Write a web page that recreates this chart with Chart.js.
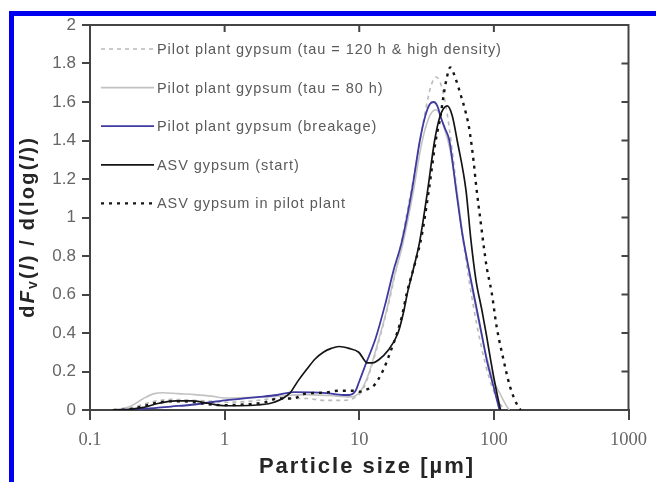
<!DOCTYPE html>
<html>
<head>
<meta charset="utf-8">
<script src="https://cdn.jsdelivr.net/npm/chart.js@4.4.1/dist/chart.umd.min.js"></script>
<style>
  html, body { margin: 0; padding: 0; background: #fff; }
  #wrap { position: relative; width: 656px; height: 482px; overflow: hidden; background: #fff; }
  #frame { position: absolute; left: 9px; top: 11px; width: 700px; height: 500px;
           border-top: 5px solid #0000f0; border-left: 5px solid #0000f0; }
  #chart { position: absolute; left: 0; top: 0; }
</style>
</head>
<body>
<div id="wrap"><div id="frame"></div><canvas id="chart" width="656" height="482"></canvas></div>
<script>
// tick values
var xTicks = [0.1, 1, 10, 100, 1000]
var yTicks = [0, 0.2, 0.4, 0.6, 0.8, 1, 1.2, 1.4, 1.6, 1.8, 2]

var seriesNames = [
  'Pilot plant gypsum (tau = 120 h & high density)',
  'Pilot plant gypsum (tau = 80 h)',
  'Pilot plant gypsum (breakage)',
  'ASV gypsum (start)',
  'ASV gypsum in pilot plant'
]

// particle size [um] / dFv/dlog(l)
var tau120X = [0.15, 0.2, 0.25, 0.3, 0.4, 0.6, 0.8, 1, 1.5, 2.5, 4, 5.5, 7.5, 9, 10.5, 12, 14, 16.5, 19, 22, 26, 30, 34, 37, 40, 44, 49, 55, 62, 70, 80, 92, 105, 120]
var tau120Y = [0, 0.01, 0.03, 0.045, 0.055, 0.05, 0.045, 0.04, 0.045, 0.06, 0.06, 0.05, 0.05, 0.06, 0.1, 0.2, 0.36, 0.55, 0.75, 0.98, 1.25, 1.5, 1.68, 1.73, 1.7, 1.58, 1.35, 1.05, 0.78, 0.55, 0.34, 0.17, 0.06, 0]

var tau80X = [0.15, 0.2, 0.25, 0.3, 0.35, 0.45, 0.6, 0.8, 1, 1.5, 2.5, 4, 6, 8.5, 10, 11.5, 13.5, 16, 18, 21, 25, 29, 33, 37, 40, 43, 47, 53, 59, 66, 75, 88, 100, 112, 122, 130]
var tau80Y = [0, 0.02, 0.06, 0.085, 0.09, 0.085, 0.08, 0.072, 0.062, 0.065, 0.072, 0.08, 0.075, 0.068, 0.09, 0.17, 0.33, 0.52, 0.68, 0.86, 1.12, 1.38, 1.52, 1.56, 1.53, 1.46, 1.36, 1.14, 0.9, 0.7, 0.5, 0.28, 0.15, 0.08, 0.03, 0]

var breakX = [0.15, 0.2, 0.3, 0.4, 0.55, 0.7, 1, 1.3, 1.75, 2.45, 3.26, 4.5, 5.7, 7.6, 8.4, 9.4, 9.9, 11.2, 13.2, 15.6, 17.9, 20.8, 24.6, 28.2, 31, 33.5, 35.7, 38, 40.8, 43.5, 46.7, 52.5, 58.1, 63.2, 67.6, 74.8, 81.4, 88.5, 99.6, 110]
var breakY = [0, 0.003, 0.01, 0.018, 0.026, 0.035, 0.05, 0.058, 0.067, 0.078, 0.093, 0.092, 0.088, 0.078, 0.078, 0.1, 0.14, 0.24, 0.37, 0.55, 0.72, 0.88, 1.14, 1.4, 1.53, 1.59, 1.6, 1.58, 1.51, 1.46, 1.4, 1.14, 0.92, 0.78, 0.675, 0.52, 0.39, 0.26, 0.12, 0]

var startX = [0.147, 0.2, 0.244, 0.325, 0.432, 0.567, 0.754, 1, 1.3, 1.75, 2.33, 3.05, 3.5, 4.06, 4.7, 5.41, 6.2, 7.08, 8.38, 9.91, 11.5, 12.6, 13.9, 16.4, 19.4, 21.2, 23, 25, 28.2, 32.2, 36.3, 40, 45.1, 49, 53.4, 62.1, 67.6, 73.6, 81.4, 88, 94.6, 103, 112]
var startY = [0, 0.004, 0.012, 0.035, 0.047, 0.047, 0.035, 0.022, 0.022, 0.026, 0.04, 0.088, 0.15, 0.21, 0.265, 0.3, 0.32, 0.33, 0.32, 0.3, 0.245, 0.245, 0.26, 0.31, 0.4, 0.5, 0.62, 0.72, 0.88, 1.14, 1.4, 1.53, 1.58, 1.53, 1.4, 1.14, 0.88, 0.675, 0.52, 0.39, 0.26, 0.12, 0]

var pilotX = [0.15, 0.2, 0.25, 0.3, 0.4, 0.5, 0.6, 0.75, 1, 1.5, 2, 2.5, 3.2, 4, 5.5, 7, 9, 10, 11.7, 12.6, 14.9, 17, 19.1, 20.8, 22.6, 25.9, 29, 33, 37, 40, 42, 44.5, 47.5, 52, 57.1, 62.1, 65.3, 67.6, 71, 74, 80, 84.1, 88.5, 96.3, 105, 118, 132, 152, 158]
var pilotY = [0, 0.005, 0.02, 0.035, 0.045, 0.045, 0.04, 0.03, 0.025, 0.03, 0.04, 0.06, 0.06, 0.085, 0.09, 0.1, 0.1, 0.095, 0.11, 0.12, 0.2, 0.3, 0.4, 0.49, 0.61, 0.76, 0.9, 1.15, 1.4, 1.52, 1.62, 1.72, 1.78, 1.72, 1.63, 1.54, 1.47, 1.4, 1.28, 1.16, 0.97, 0.85, 0.74, 0.61, 0.43, 0.26, 0.12, 0.015, 0]

function pts(xs, ys) {
  return xs.map(function (v, i) { return { x: v, y: ys[i] } })
}

var datasets = [
  { label: seriesNames[0], data: pts(tau120X, tau120Y), borderColor: '#b9b9b9', borderWidth: 1.6, borderDash: [4, 4], order: 5 },
  { label: seriesNames[1], data: pts(tau80X, tau80Y), borderColor: '#c2c2c2', borderWidth: 1.6, order: 4 },
  { label: seriesNames[2], data: pts(breakX, breakY), borderColor: '#3e3aa0', borderWidth: 1.8, order: 3 },
  { label: seriesNames[3], data: pts(startX, startY), borderColor: '#151515', borderWidth: 1.7, order: 2 },
  { label: seriesNames[4], data: pts(pilotX, pilotY), borderColor: '#151515', borderWidth: 2.4, borderDash: [3, 5], order: 1 }
]

// draws text char by char with extra spacing; segments may be italic or subscript
function richText(ctx, segs, size, spacing, cx, cy, weight, align) {
  var parts = []
  segs.forEach(function (s) {
    var fs = s.sub ? Math.round(size * 0.7) : size
    var font = (s.i ? 'italic ' : '') + (weight || 'bold') + ' ' + fs + 'px "Liberation Sans", Arial, sans-serif'
    for (var k = 0; k < s.t.length; k++) parts.push({ c: s.t[k], font: font, dy: s.sub ? size * 0.28 : 0 })
  })
  var total = 0
  parts.forEach(function (p) { ctx.font = p.font; p.w = ctx.measureText(p.c).width; total += p.w + spacing })
  total -= spacing
  var x = align === 'left' ? cx : cx - total / 2
  ctx.textBaseline = 'middle'
  ctx.textAlign = 'left'
  parts.forEach(function (p) { ctx.font = p.font; ctx.fillText(p.c, x, cy + p.dy); x += p.w + spacing })
}

var decorPlugin = {
  id: 'decor',
  afterDraw: function (chart) {
    var ctx = chart.ctx, a = chart.chartArea, xs = chart.scales.x, ys = chart.scales.y
    ctx.save()
    // box top and right with inner ticks
    ctx.strokeStyle = '#444'
    ctx.lineWidth = 2
    ctx.beginPath()
    ctx.moveTo(a.left, a.top); ctx.lineTo(a.right, a.top); ctx.lineTo(a.right, a.bottom)
    xTicks.slice(1, -1).forEach(function (v) {
      var px = xs.getPixelForValue(v)
      ctx.moveTo(px, a.top); ctx.lineTo(px, a.top + 7)
    })
    yTicks.slice(1, -1).forEach(function (v) {
      var py = ys.getPixelForValue(v)
      ctx.moveTo(a.right, py); ctx.lineTo(a.right - 7, py)
    })
    ctx.stroke()

    // legend inside the plot
    chart.data.datasets.forEach(function (d, i) {
      var y = 49 + i * 38.6
      ctx.beginPath()
      ctx.strokeStyle = d.borderColor
      ctx.lineWidth = d.borderWidth
      ctx.setLineDash(d.borderDash || [])
      ctx.moveTo(101, y); ctx.lineTo(154, y)
      ctx.stroke()
      ctx.setLineDash([])
      ctx.fillStyle = '#5a5a5a'
      richText(ctx, [{ t: d.label }], 14.5, 0.95, 157, y + 1, 'normal', 'left')
    })

    // axis titles
    ctx.fillStyle = '#262626'
    richText(ctx, [{ t: 'Particle size [\u00b5m]' }], 22, 2, 366, 467)
    ctx.translate(28, 228)
    ctx.rotate(-Math.PI / 2)
    richText(ctx, [
      { t: 'd' }, { t: 'F', i: true }, { t: 'v', sub: true }, { t: '(' }, { t: 'l', i: true },
      { t: ') / d(log(' }, { t: 'l', i: true }, { t: '))' }
    ], 20, 2.2, 0, 0)
    ctx.restore()
  }
}

new Chart(document.getElementById('chart').getContext('2d'), {
  type: 'line',
  data: { datasets: datasets },
  plugins: [decorPlugin],
  options: {
    responsive: false,
    animation: false,
    layout: { padding: { left: 0, right: 19, top: 25, bottom: 0 } },
    plugins: { legend: { display: false }, tooltip: { enabled: false } },
    elements: {
      point: { radius: 0 },
      line: { cubicInterpolationMode: 'monotone', borderCapStyle: 'butt', fill: false }
    },
    scales: {
      x: {
        type: 'logarithmic',
        min: 0.1,
        max: 1000,
        afterBuildTicks: function (s) { s.ticks = xTicks.map(function (v) { return { value: v } }) },
        afterFit: function (s) { s.height = 72 },
        grid: { drawOnChartArea: false, drawTicks: true, tickLength: 10, color: '#444', lineWidth: 2 },
        border: { color: '#444', width: 2 },
        ticks: {
          autoSkip: false, maxRotation: 0, padding: 9, color: '#666',
          font: { family: '"Liberation Serif", "Times New Roman", serif', size: 18.5 },
          callback: function (v) { return String(v) }
        }
      },
      y: {
        min: 0,
        max: 2,
        afterBuildTicks: function (s) { s.ticks = yTicks.map(function (v) { return { value: v } }) },
        afterFit: function (s) { s.width = 90 },
        grid: { drawOnChartArea: false, drawTicks: true, tickLength: 8, color: '#444', lineWidth: 2 },
        border: { color: '#444', width: 2 },
        ticks: {
          padding: 6, color: '#666',
          font: { family: '"Liberation Sans", Arial, sans-serif', size: 17 },
          callback: function (v) { return String(+(+v).toFixed(1)) }
        }
      }
    }
  }
})
</script>
</body>
</html>
